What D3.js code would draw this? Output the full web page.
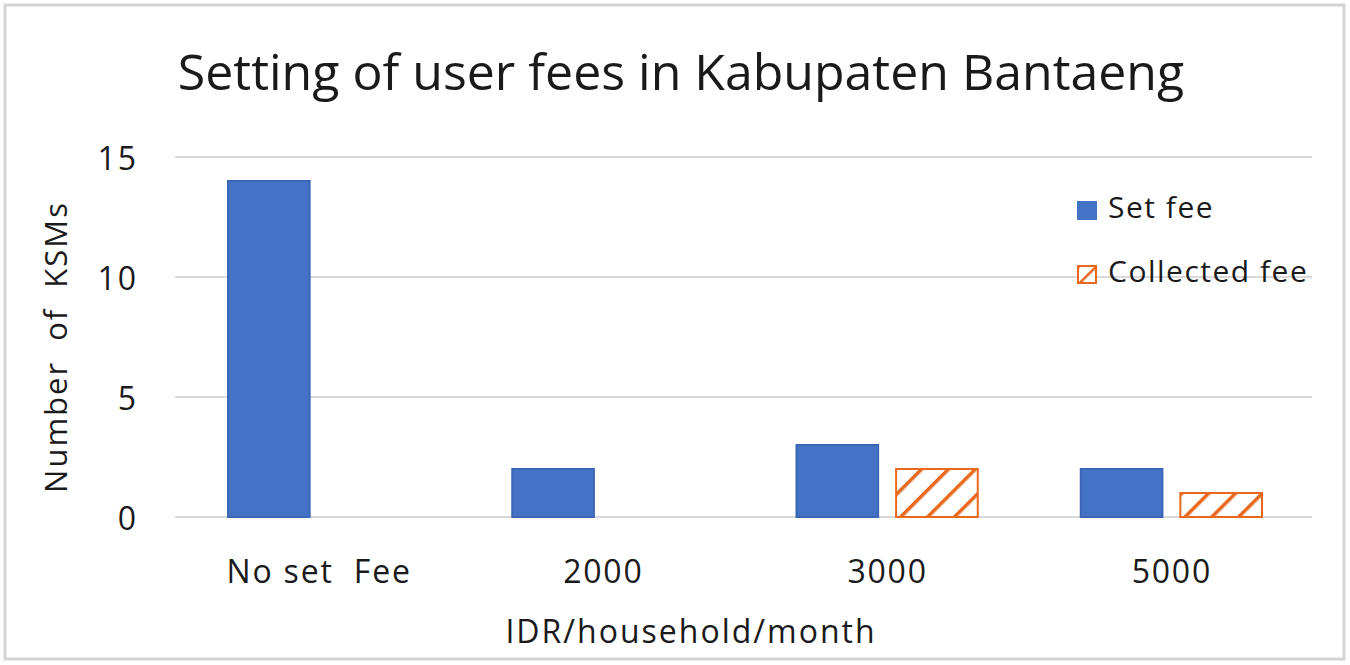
<!DOCTYPE html>
<html>
<head>
<meta charset="utf-8">
<script src="https://cdn.jsdelivr.net/npm/d3@7"></script>
<style>
  body { margin:0; background:#fff; }
  svg text { font-family: "Open Sans", "Noto Sans", sans-serif; fill:#1a1a1a; }
</style>
</head>
<body>
<svg id="chart" width="1350" height="665"></svg>
<script>
// data
var categories = ["No set  Fee", "2000", "3000", "5000"];
var seriesNames = ["Set fee", "Collected fee"];
var setFee = [14, 2, 3, 2];
var collectedFee = [0, 0, 2, 1];
var yTicks = [0, 5, 10, 15];

var svg = d3.select("#chart");
var W = 1350, H = 665;
var m = {left:175, right:38, top:157, bottom:148};

// outer frame
svg.append("rect").attr("x",5).attr("y",5).attr("width",W-11).attr("height",H-11)
   .attr("fill","#fff").attr("stroke","#d4d4d4").attr("stroke-width",3);

// hatch pattern
var defs = svg.append("defs");
var pat = defs.append("pattern").attr("id","hatch").attr("patternUnits","userSpaceOnUse")
   .attr("width",19).attr("height",19).attr("patternTransform","rotate(45)");
pat.append("rect").attr("width",19).attr("height",19).attr("fill","#fff");
pat.append("line").attr("x1",0).attr("y1",0).attr("x2",0).attr("y2",19)
   .attr("stroke","#E8681E").attr("stroke-width",7);
var pat2 = defs.append("pattern").attr("id","hatchSmall").attr("patternUnits","userSpaceOnUse")
   .attr("width",12).attr("height",12).attr("patternTransform","rotate(45)");
pat2.append("rect").attr("width",12).attr("height",12).attr("fill","#fff");
pat2.append("line").attr("x1",0).attr("y1",0).attr("x2",0).attr("y2",12)
   .attr("stroke","#E8681E").attr("stroke-width",5);

var x0 = d3.scaleBand().domain(categories).range([m.left, W-m.right]).padding(0);
var x1 = d3.scaleBand().domain(seriesNames).range([53, x0.bandwidth()-50]).paddingInner(0.18);
var y = d3.scaleLinear().domain([0,15]).range([H-m.bottom, m.top]);

// gridlines
svg.append("g").selectAll("line").data(yTicks).enter().append("line")
   .attr("x1", m.left).attr("x2", W-m.right)
   .attr("y1", function(d){return y(d);}).attr("y2", function(d){return y(d);})
   .attr("stroke","#d9d9d9").attr("stroke-width",2);

// y tick labels
svg.append("g").selectAll("text").data(yTicks).enter().append("text")
   .attr("x", 138).attr("y", function(d){return y(d);}).attr("dy","0.42em")
   .attr("text-anchor","end").style("font-size","32px").style("letter-spacing","2px")
   .text(function(d){return d;});

// bars
var rows = categories.map(function(c,i){ return {cat:c, vals:[
   {s:seriesNames[0], v:setFee[i]}, {s:seriesNames[1], v:collectedFee[i]}]}; });

var g = svg.append("g").selectAll("g").data(rows).enter().append("g")
   .attr("transform", function(d){return "translate("+x0(d.cat)+",0)";});
g.selectAll("rect").data(function(d){return d.vals.filter(function(v){return v.v>0;});}).enter().append("rect")
   .attr("x", function(d){return x1(d.s);})
   .attr("width", x1.bandwidth())
   .attr("y", function(d){return y(d.v);})
   .attr("height", function(d){return y(0)-y(d.v);})
   .attr("fill", function(d){return d.s==="Set fee" ? "#4472C4" : "url(#hatch)";})
   .attr("stroke", function(d){return d.s==="Set fee" ? "#3b65b5" : "#E8681E";})
   .attr("stroke-width", 2);

// x tick labels
svg.append("g").selectAll("text").data(categories).enter().append("text")
   .attr("x", function(d){return x0(d)+x0.bandwidth()/2 + 2;}).attr("y", 583)
   .attr("text-anchor","middle").style("font-size","32px").style("letter-spacing","1.8px")
   .style("white-space","pre").attr("xml:space","preserve").text(function(d){return d;});

// title
svg.append("text").attr("x", 681).attr("y", 90).attr("text-anchor","middle")
   .style("font-size","50px").text("Setting of user fees in Kabupaten Bantaeng");

// axis titles
svg.append("text").attr("x", 691).attr("y", 643).attr("text-anchor","middle")
   .style("font-size","32px").style("letter-spacing","2px").text("IDR/household/month");
svg.append("text").attr("transform","translate(67,347) rotate(-90)").attr("text-anchor","middle")
   .style("font-size","31px").style("letter-spacing","2px").style("word-spacing","10px")
   .text("Number of KSMs");

// legend
var leg = svg.append("g").selectAll("g").data(seriesNames).enter().append("g")
   .attr("transform", function(d,i){return "translate(1078,"+(202+i*64)+")";});
leg.append("rect").attr("width",18).attr("height",17)
   .attr("fill", function(d,i){return i===0 ? "#4472C4" : "url(#hatchSmall)";})
   .attr("stroke", function(d,i){return i===0 ? "#4472C4" : "#E8681E";})
   .attr("stroke-width", 2);
leg.append("text").attr("x",30).attr("y",16)
   .style("font-size","30px").style("letter-spacing","1.5px").text(function(d){return d;});
</script>
</body>
</html>
